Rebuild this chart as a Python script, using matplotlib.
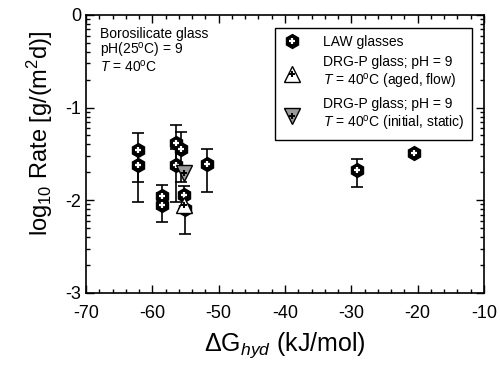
import matplotlib.pyplot as plt
from matplotlib.ticker import MultipleLocator, FixedLocator
from matplotlib.legend_handler import HandlerTuple
import numpy as np

plt.rcParams['font.family'] = ['Liberation Sans', 'DejaVu Sans']
plt.rcParams['mathtext.fontset'] = 'custom'
plt.rcParams['mathtext.rm'] = 'Liberation Sans'
plt.rcParams['mathtext.it'] = 'Liberation Sans:italic'
plt.rcParams['axes.unicode_minus'] = False

# LAW glasses: dG_hyd, log10 rate, lower / upper error bar ends
law_dg = [-62.2, -62.2, -58.6, -58.6, -56.4, -55.7, -56.4, -55.3, -55.1, -51.8, -29.2, -20.6]
law_rate = [-1.46, -1.62, -1.95, -2.05, -1.38, -1.45, -1.62, -1.94, -2.10, -1.61, -1.67, -1.49]
law_lo = [-1.80, -2.02, -2.10, -2.24, -1.62, -1.80, -2.02, -2.10, -2.36, -1.91, -1.86, -1.49]
law_hi = [-1.27, -1.45, -1.84, -1.92, -1.19, -1.26, -1.45, -1.85, -1.92, -1.45, -1.56, -1.49]

# DRG-P glass
aged_dg, aged_rate = [-55.2], [-2.05]
init_dg, init_rate = [-55.2], [-1.71]

fig = plt.figure(figsize=(5.0, 3.74), dpi=100)
ax = fig.add_axes([0.172, 0.217, 0.796, 0.743])

law_dg = np.array(law_dg)
law_rate = np.array(law_rate)
yerr = [law_rate - np.array(law_lo), np.array(law_hi) - law_rate]
ax.errorbar(law_dg, law_rate, yerr=yerr, fmt='none', ecolor='black',
            elinewidth=1.2, capsize=4.5, capthick=1.2, zorder=2)

hexa, = ax.plot(law_dg, law_rate, 'h', ms=10, mfc='black', mec='black', zorder=3)
plus1, = ax.plot(law_dg, law_rate, '+', ms=5, mew=1.6, color='white', zorder=4)

tri_up, = ax.plot(aged_dg, aged_rate, '^', ms=11, mfc='white', mec='black', mew=1.0, zorder=5)
plus2, = ax.plot(aged_dg, aged_rate, '+', ms=5, mew=1.4, color='black', zorder=6)
tri_dn, = ax.plot(init_dg, init_rate, 'v', ms=11, mfc='0.6', mec='black', mew=1.0, zorder=5)
plus3, = ax.plot(init_dg, init_rate, '+', ms=5, mew=1.4, color='black', zorder=6)

ax.set_xlim(-70, -10)
ax.set_ylim(-3, 0)
ax.xaxis.set_major_locator(MultipleLocator(10))
ax.xaxis.set_minor_locator(MultipleLocator(2))
ax.yaxis.set_major_locator(MultipleLocator(1))
minors = [d + np.log10(k) for d in (-3, -2, -1) for k in range(2, 10)]
ax.yaxis.set_minor_locator(FixedLocator(minors))
ax.tick_params(which='both', direction='in', top=True, right=True, labelsize=13, width=1)
ax.tick_params(which='major', length=6)
ax.tick_params(which='minor', length=3)
ax.tick_params(axis='x', pad=9)
for s in ax.spines.values():
    s.set_linewidth(1.2)

ax.set_xlabel(r'$\Delta$G$_{\it hyd}$ (kJ/mol)', fontsize=18, labelpad=6)
ax.set_ylabel(r'log$_{10}$ Rate [g/(m$^2$d)]', fontsize=17)
ax.yaxis.set_label_coords(-0.078, 0.575)

info = ['Borosilicate glass', 'pH(25$^{\\rm o}$C) = 9', '$T$ = 40$^{\\rm o}$C']
for line, yy in zip(info, [0.917, 0.856, 0.795]):
    ax.text(0.035, yy, line, transform=ax.transAxes, ha='left', va='baseline', fontsize=10)

leg = ax.legend([(hexa, plus1), (tri_up, plus2), (tri_dn, plus3)],
                ['LAW glasses',
                 'DRG-P glass; pH = 9\n$T$ = 40$^{\\rm o}$C (aged, flow)',
                 'DRG-P glass; pH = 9\n$T$ = 40$^{\\rm o}$C (initial, static)'],
                handler_map={tuple: HandlerTuple(ndivide=1)},
                loc='upper right', bbox_to_anchor=(0.97, 0.953), borderaxespad=0,
                fontsize=10, fancybox=False, edgecolor='black', framealpha=1,
                handlelength=1.5, handletextpad=1.5, borderpad=0.5, labelspacing=0.45)
leg.get_frame().set_linewidth(1.0)

fig.savefig('out.png', dpi=100)
